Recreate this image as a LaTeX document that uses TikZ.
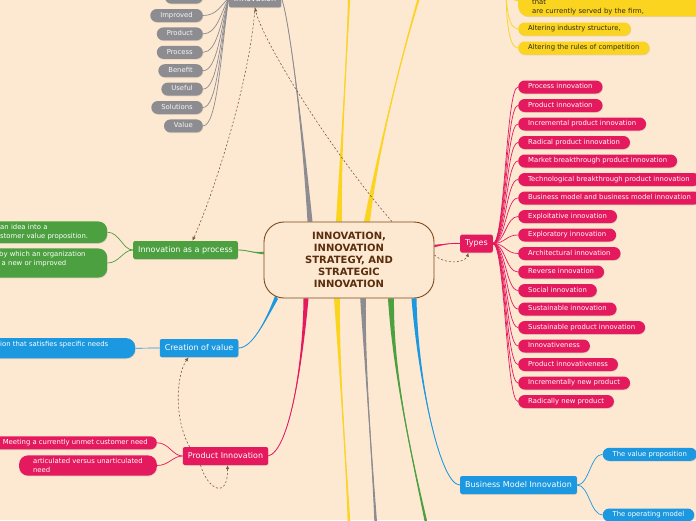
\documentclass[tikz,border=0pt]{standalone}
\usepackage{fontspec}
\setmainfont{DejaVu Sans}
\usepackage{tikz}
\usetikzlibrary{arrows.meta,positioning,calc,shadows,backgrounds}

\definecolor{bgpeach}{HTML}{FDE8D1}
\definecolor{hubline}{HTML}{7A4B1E}
\definecolor{hubtext}{HTML}{5A2D0C}
\definecolor{mmpink}{HTML}{E5195E}
\definecolor{mmgreen}{HTML}{4CA040}
\definecolor{mmblue}{HTML}{1B98E0}
\definecolor{mmgray}{HTML}{8C8C91}
\definecolor{mmyellow}{HTML}{FBD41F}
\definecolor{leafdark}{HTML}{2E2A1E}
\definecolor{relbrown}{HTML}{7B5B3B}

\newcommand{\leaffont}{\fontsize{6.85}{9}\selectfont}
% tapered main branch: colour, start, control 1, control 2, end, half width at start, half width at end
\newcommand{\branch}[7]{%
  \fill[#1] ($#2+#6$) .. controls #3 and #4 .. ($#5+#7$) -- ($#5-#7$) .. controls #4 and #3 .. ($#2-#6$) -- cycle;
  \draw[#1,line width=0.8pt] #2 .. controls #3 and #4 .. #5;}

\begin{document}
\begin{tikzpicture}[
		x=1pt,y=-1pt,
		shade/.style={drop shadow={shadow xshift=0.5pt,shadow yshift=-0.8pt,opacity=0.22}},
		hub/.style={draw=hubline,line width=0.9pt,fill=bgpeach,rounded corners=20pt,minimum width=170pt,minimum height=76pt,align=center,text=hubtext,font=\fontsize{10}{12}\selectfont\bfseries},
		topic/.style={shade,rounded corners=2pt,minimum height=18pt,inner xsep=5pt,inner ysep=0pt,text=white,font=\fontsize{8}{9.6}\selectfont},
		leaf/.style={shade,rounded corners=6.5pt,minimum height=13pt,inner xsep=10pt,inner ysep=0pt,text height=5pt,text depth=1.5pt,font=\leaffont},
		bigleaf/.style={shade,rounded corners=9pt,inner xsep=10pt,inner ysep=3pt,align=left,font=\leaffont},
		pinkleaf/.style={leaf,fill=mmpink,text=white},
		grayleaf/.style={leaf,fill=mmgray,text=white!94!gray},
		yellowleaf/.style={leaf,fill=mmyellow,text=leafdark},
		blueleaf/.style={leaf,fill=mmblue,text=white},
		link/.style={line width=0.7pt},
		rel/.style={draw=relbrown,line width=0.6pt,dash pattern=on 2pt off 2pt,-{Latex[length=4pt,width=3.5pt]}}
		]
		\begin{scope}[on background layer]
			\fill[bgpeach] (0,0) rectangle (696,520);
		\end{scope}
		\useasboundingbox (0,0) rectangle (696,520);

		% central topic
		\node[hub] (hub) at (349,260) {INNOVATION,\\INNOVATION\\STRATEGY, AND\\STRATEGIC\\INNOVATION};
		\coordinate (hN1) at ($(hub.north)+(-39,0)$);
		\coordinate (hN2) at ($(hub.north)+(-10,0)$);
		\coordinate (hN3) at ($(hub.north)+(18,0)$);
		\coordinate (hN4) at ($(hub.north)+(43,0)$);
		\coordinate (hS1) at ($(hub.south)+(-43,0)$);
		\coordinate (hS2) at ($(hub.south)+(-12,0)$);
		\coordinate (hS3) at ($(hub.south)+(14,0)$);
		\coordinate (hS4) at ($(hub.south)+(42,0)$);
		\coordinate (hS5) at ($(hub.south)+(65,0)$);
		\coordinate (hSW) at ($(hub.south west)+(13,-1)$);
		\coordinate (hW) at ($(hub.west)+(0,-7)$);
		\coordinate (hE) at ($(hub.east)+(0,-14)$);
		\coordinate (hE2) at ($(hub.east)+(0,-5)$);
		% branches leaving the picture
		\coordinate (yUp1) at (350,-25);
		\coordinate (yUp2) at (426,-25);
		\coordinate (yDn) at (350,545);
		\coordinate (gDn) at (377,545);
		\coordinate (grDn) at (431,545);
		\coordinate (ypar) at (506,-15);

		% main topics
		\node[topic,fill=mmpink] (types) at (476.5,243.5) {Types};
		\node[topic,fill=mmgreen] (process) at (185.5,250) {Innovation as a process};
		\node[topic,fill=mmblue] (creation) at (199,348) {Creation of value};
		\node[topic,fill=mmpink] (product) at (225.5,456) {Product Innovation};
		\node[topic,fill=mmblue] (bmi) at (518.5,485) {Business Model Innovation};
		\node[topic,fill=mmgray] (innov) at (255,-1.7) {Innovation};

		% types
		\node[pinkleaf,anchor=west] (procinno) at (518,87) {Process innovation};
		\node[pinkleaf,below=5.1pt of procinno.south west,anchor=north west] (prodinno) {Product innovation};
		\node[pinkleaf,below=5.1pt of prodinno.south west,anchor=north west] (incrprod) {Incremental product innovation};
		\node[pinkleaf,below=5.1pt of incrprod.south west,anchor=north west] (radprod) {Radical product innovation};
		\node[pinkleaf,below=5.1pt of radprod.south west,anchor=north west] (marketbt) {Market breakthrough product innovation};
		\node[pinkleaf,below=5.1pt of marketbt.south west,anchor=north west] (techbt) {Technological breakthrough product innovation};
		\node[pinkleaf,below=5.1pt of techbt.south west,anchor=north west] (bizmodel) {Business model and business model innovation};
		\node[pinkleaf,below=5.1pt of bizmodel.south west,anchor=north west] (exploit) {Exploitative innovation};
		\node[pinkleaf,below=5.1pt of exploit.south west,anchor=north west] (explore) {Exploratory innovation};
		\node[pinkleaf,below=5.1pt of explore.south west,anchor=north west] (archi) {Architectural innovation};
		\node[pinkleaf,below=5.1pt of archi.south west,anchor=north west] (reverse) {Reverse innovation};
		\node[pinkleaf,below=5.1pt of reverse.south west,anchor=north west] (social) {Social innovation};
		\node[pinkleaf,below=5.1pt of social.south west,anchor=north west] (sustain) {Sustainable innovation};
		\node[pinkleaf,below=5.1pt of sustain.south west,anchor=north west] (sustprod) {Sustainable product innovation};
		\node[pinkleaf,below=5.1pt of sustprod.south west,anchor=north west] (innovness) {Innovativeness};
		\node[pinkleaf,below=5.1pt of innovness.south west,anchor=north west] (prodness) {Product innovativeness};
		\node[pinkleaf,below=5.1pt of prodness.south west,anchor=north west] (incrnew) {Incrementally new product};
		\node[pinkleaf,below=5.1pt of incrnew.south west,anchor=north west] (radnew) {Radically new product};

		% innovation keywords
		\node[grayleaf,anchor=east] (improved) at (203,15.5) {Improved};
		\node[grayleaf,above=5pt of improved.north east,anchor=south east,minimum width=38pt] (grayhidden) {};
		\node[grayleaf,below=5pt of improved.south east,anchor=north east] (gproduct) {Product};
		\node[grayleaf,below=5pt of gproduct.south east,anchor=north east] (gprocess) {Process};
		\node[grayleaf,below=5pt of gprocess.south east,anchor=north east] (benefit) {Benefit};
		\node[grayleaf,below=5pt of benefit.south east,anchor=north east] (useful) {Useful};
		\node[grayleaf,below=5pt of useful.south east,anchor=north east] (solutions) {Solutions};
		\node[grayleaf,below=5pt of solutions.south east,anchor=north east] (value) {Value};

		% strategy (yellow)
		\node[bigleaf,fill=mmyellow,text=leafdark,anchor=south west,inner xsep=14pt,inner ysep=1.5pt,rounded corners=10pt,text width=200pt] (firmbox) at (518,16.5) {\mbox{}\\\mbox{}\\that\\are currently served by the firm,};
		\node[yellowleaf,anchor=west] (altind) at (518,29) {Altering industry structure,};
		\node[yellowleaf,anchor=west] (altrules) at (518,48) {Altering the rules of competition};

		% left side leaves
		\node[bigleaf,fill=mmgreen,text=white,anchor=west,text width=97pt] (gidea) at (-10,232.2) {an idea into a\\stomer value proposition.};
		\node[bigleaf,fill=mmgreen,text=white,anchor=west,text width=98pt] (gorg) at (-11,263) {by which an organization\\\hspace*{2.5pt}a new or improved\\\mbox{}};
		\node[bigleaf,fill=mmblue,text=white,anchor=west,text width=125pt] (bneeds) at (-10,348.2) {ion that satisfies specific needs\\\mbox{}};
		\node[pinkleaf,anchor=east,inner xsep=9pt] (unmet) at (157,442.8) {Meeting a currently unmet customer need};
		\node[bigleaf,fill=mmpink,text=white,anchor=east,inner xsep=14pt] (artic) at (157,465.5) {articulated versus unarticulated\\need};

		% business model
		\node[blueleaf,anchor=west] (valueprop) at (602.5,454.3) {The value proposition};
		\node[blueleaf,anchor=west] (opmodel) at (602.5,515) {The operating model};

		\begin{scope}[on background layer]
			\branch{mmgray}{(hN1)}{(300,100)}{(287,10)}{(innov.east)}{(2.5,0)}{(0,0)}
			\branch{mmyellow}{(hN2)}{(341,140)}{(348,40)}{(yUp1)}{(3,0)}{(1.6,0)}
			\branch{mmyellow}{(hN3)}{(378,150)}{(405,40)}{(yUp2)}{(3,0)}{(1.6,0)}
			\branch{mmpink}{(hS1)}{(303,360)}{(290,450)}{(product.east)}{(2.5,0)}{(0,0)}
			\branch{mmyellow}{(hS2)}{(339,370)}{(347,470)}{(yDn)}{(3,0)}{(1.8,0)}
			\branch{mmgray}{(hS3)}{(365,370)}{(373,470)}{(gDn)}{(2.8,0)}{(1.8,0)}
			\branch{mmgreen}{(hS4)}{(393,380)}{(415,470)}{(grDn)}{(3,0)}{(1.8,0)}
			\branch{mmblue}{(hS5)}{(418,380)}{(440,485)}{(bmi.west)}{(2.5,0)}{(0,0)}
			\branch{mmblue}{(hSW)}{(265,322)}{(252,348)}{(creation.east)}{(1.5,1.5)}{(0,0)}
			\branch{mmgreen}{(hW)}{(252,253)}{(248,250)}{(process.east)}{(0,1.3)}{(0,0)}
			\branch{mmpink}{(hE)}{(446,244)}{(452,243)}{(types.west)}{(0,1.3)}{(0,0)}

			\draw[link,mmpink] (types.east) .. controls +(12,0) and +(-12,0) .. (procinno.west);
			\draw[link,mmpink] (types.east) .. controls +(12,0) and +(-12,0) .. (prodinno.west);
			\draw[link,mmpink] (types.east) .. controls +(12,0) and +(-12,0) .. (incrprod.west);
			\draw[link,mmpink] (types.east) .. controls +(12,0) and +(-12,0) .. (radprod.west);
			\draw[link,mmpink] (types.east) .. controls +(12,0) and +(-12,0) .. (marketbt.west);
			\draw[link,mmpink] (types.east) .. controls +(12,0) and +(-12,0) .. (techbt.west);
			\draw[link,mmpink] (types.east) .. controls +(12,0) and +(-12,0) .. (bizmodel.west);
			\draw[link,mmpink] (types.east) .. controls +(12,0) and +(-12,0) .. (exploit.west);
			\draw[link,mmpink] (types.east) .. controls +(12,0) and +(-12,0) .. (explore.west);
			\draw[link,mmpink] (types.east) .. controls +(12,0) and +(-12,0) .. (archi.west);
			\draw[link,mmpink] (types.east) .. controls +(12,0) and +(-12,0) .. (reverse.west);
			\draw[link,mmpink] (types.east) .. controls +(12,0) and +(-12,0) .. (social.west);
			\draw[link,mmpink] (types.east) .. controls +(12,0) and +(-12,0) .. (sustain.west);
			\draw[link,mmpink] (types.east) .. controls +(12,0) and +(-12,0) .. (sustprod.west);
			\draw[link,mmpink] (types.east) .. controls +(12,0) and +(-12,0) .. (innovness.west);
			\draw[link,mmpink] (types.east) .. controls +(12,0) and +(-12,0) .. (prodness.west);
			\draw[link,mmpink] (types.east) .. controls +(12,0) and +(-12,0) .. (incrnew.west);
			\draw[link,mmpink] (types.east) .. controls +(12,0) and +(-12,0) .. (radnew.west);

			\draw[link,mmgray] (innov.west) .. controls +(-8,2) and +(10,0) .. (grayhidden.east);
			\draw[link,mmgray] (innov.west) .. controls +(-8,7) and +(14,0) .. (improved.east);
			\draw[link,mmgray] (innov.west) .. controls +(-8,15) and +(14,0) .. (gproduct.east);
			\draw[link,mmgray] (innov.west) .. controls +(-8,24) and +(14,0) .. (gprocess.east);
			\draw[link,mmgray] (innov.west) .. controls +(-8,32) and +(14,0) .. (benefit.east);
			\draw[link,mmgray] (innov.west) .. controls +(-8,41) and +(14,0) .. (useful.east);
			\draw[link,mmgray] (innov.west) .. controls +(-8,49) and +(14,0) .. (solutions.east);
			\draw[link,mmgray] (innov.west) .. controls +(-8,58) and +(14,0) .. (value.east);

			\draw[link,mmyellow] (ypar) .. controls +(0,5) and +(-10,0) .. (firmbox.west);
			\draw[link,mmyellow] (ypar) .. controls +(0,20) and +(-10,0) .. (altind.west);
			\draw[link,mmyellow] (ypar) .. controls +(0,30) and +(-10,0) .. (altrules.west);

			\draw[link,mmgreen] (process.west) .. controls +(-10,0) and +(12,0) .. (gidea.east);
			\draw[link,mmgreen] (process.west) .. controls +(-10,0) and +(12,0) .. (gorg.east);
			\draw[link,mmblue] (creation.west) -- (bneeds.east);
			\draw[link,mmpink] (product.west) .. controls +(-10,0) and +(12,0) .. (unmet.east);
			\draw[link,mmpink] (product.west) .. controls +(-10,0) and +(12,0) .. (artic.east);
			\draw[link,mmblue] (bmi.east) .. controls +(12,0) and +(-12,0) .. (valueprop.west);
			\draw[link,mmblue] (bmi.east) .. controls +(12,0) and +(-12,0) .. (opmodel.west);
		\end{scope}

		% relationships
		\draw[rel] (hN4) .. controls (330,150) and (262,40) .. (innov.south);
		\draw[rel] (innov.south) .. controls (250,80) and (215,190) .. ($(process.north)+(7,0)$);
		\draw[rel] (hE2) .. controls (445,265) and (465,263) .. ($(types.south)+(-8,0)$);
		\draw[rel] ($(product.north west)+(7,0)$) .. controls (174,420) and (176,375) .. ($(creation.south west)+(29,0)$);
		\draw[rel] ($(product.south)+(-25,0)$) .. controls (208,490) and (228,500) .. ($(product.south)+(2,0)$);
	\end{tikzpicture}
\end{document}
